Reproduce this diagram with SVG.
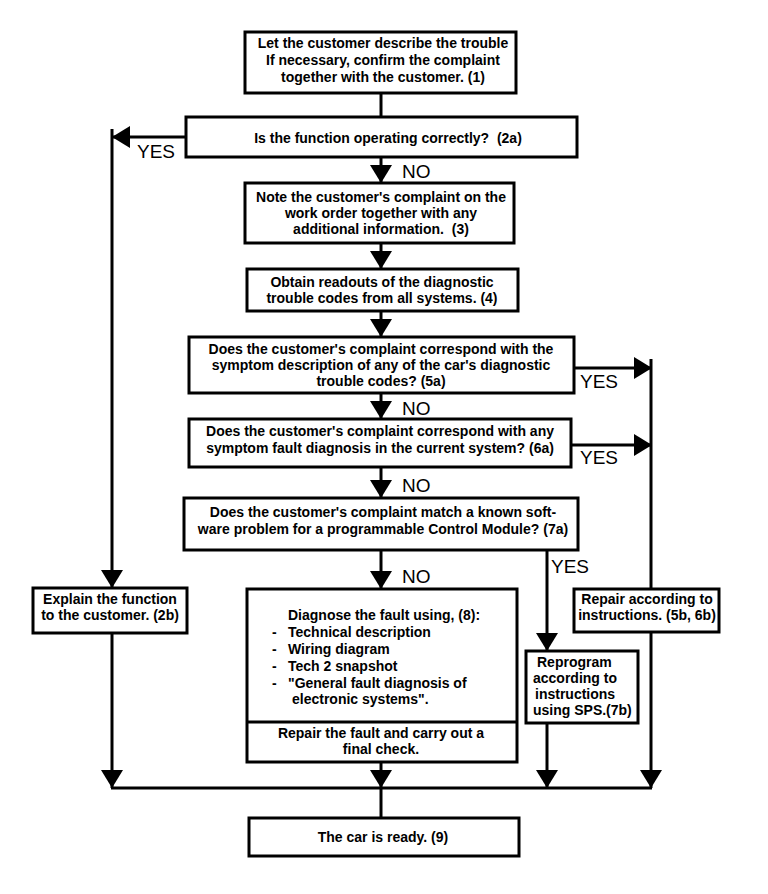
<svg xmlns="http://www.w3.org/2000/svg" width="768" height="894" viewBox="0 0 768 894">
<style>
.box{fill:#fff;stroke:#000;stroke-width:3}
.ln{fill:none;stroke:#000;stroke-width:3}
text{font-family:"Liberation Sans",Arial,sans-serif;font-size:14px;font-weight:bold;fill:#000}
.c{text-anchor:middle}
.lbl{font-size:19px;font-weight:normal}
</style>
<defs>
<marker id="ah" viewBox="0 0 18 22" refX="18" refY="11" markerWidth="18" markerHeight="22" markerUnits="userSpaceOnUse" orient="auto">
<path d="M0,0 L18,11 L0,22 z" fill="#000"/>
</marker>
</defs>
<rect width="768" height="894" fill="#fff"/>
<g id="connectors">
<path class="ln" d="M381,93 V117"/>
<path class="ln" d="M381,157 V183" marker-end="url(#ah)"/>
<path class="ln" d="M381,243 V269" marker-end="url(#ah)"/>
<path class="ln" d="M381,311 V337" marker-end="url(#ah)"/>
<path class="ln" d="M381,393 V419" marker-end="url(#ah)"/>
<path class="ln" d="M381,467 V498" marker-end="url(#ah)"/>
<path class="ln" d="M381,550 V589" marker-end="url(#ah)"/>
<path class="ln" d="M186,137 H112" marker-end="url(#ah)"/>
<path class="ln" d="M112,129 V588" marker-end="url(#ah)"/>
<path class="ln" d="M112,633 V788" marker-end="url(#ah)"/>
<path class="ln" d="M574,368 H652" marker-end="url(#ah)"/>
<path class="ln" d="M571,445 H652" marker-end="url(#ah)"/>
<path class="ln" d="M651,359 V589"/>
<path class="ln" d="M651,632 V788" marker-end="url(#ah)"/>
<path class="ln" d="M547,550 V651" marker-end="url(#ah)"/>
<path class="ln" d="M547,723 V788" marker-end="url(#ah)"/>
<path class="ln" d="M381,762 V788" marker-end="url(#ah)"/>
<path class="ln" d="M111,788 H652"/>
<path class="ln" d="M381,788 V818"/>
<text class="lbl" x="137" y="158">YES</text>
<text class="lbl" x="402" y="178">NO</text>
<text class="lbl" x="580" y="388">YES</text>
<text class="lbl" x="402" y="415">NO</text>
<text class="lbl" x="580" y="464">YES</text>
<text class="lbl" x="402" y="492">NO</text>
<text class="lbl" x="551" y="573">YES</text>
<text class="lbl" x="402" y="583">NO</text>
</g>
<g id="n1">
<rect class="box" x="245" y="32" width="271" height="61"/>
<text class="c" x="383" y="48">Let the customer describe the trouble</text>
<text class="c" x="383" y="65">If necessary, confirm the complaint</text>
<text class="c" x="383" y="82">together with the customer. (1)</text>
</g>
<g id="n2a">
<rect class="box" x="186" y="117" width="391" height="40"/>
<text class="c" x="388" y="143" xml:space="preserve">Is the function operating correctly?  (2a)</text>
</g>
<g id="n3">
<rect class="box" x="245" y="183" width="269" height="60"/>
<text class="c" x="381" y="202">Note the customer's complaint on the</text>
<text class="c" x="381" y="218">work order together with any</text>
<text class="c" x="381" y="234" xml:space="preserve">additional information.  (3)</text>
</g>
<g id="n4">
<rect class="box" x="247" y="269" width="271" height="42"/>
<text class="c" x="382" y="287">Obtain readouts of the diagnostic</text>
<text class="c" x="382" y="303">trouble codes from all systems. (4)</text>
</g>
<g id="n5a">
<rect class="box" x="189" y="337" width="385" height="56"/>
<text class="c" x="381" y="354">Does the customer's complaint correspond with the</text>
<text class="c" x="381" y="370">symptom description of any of the car's diagnostic</text>
<text class="c" x="381" y="386">trouble codes? (5a)</text>
</g>
<g id="n6a">
<rect class="box" x="189" y="419" width="382" height="48"/>
<text class="c" x="380" y="436">Does the customer's complaint correspond with any</text>
<text class="c" x="380" y="453">symptom fault diagnosis in the current system? (6a)</text>
</g>
<g id="n7a">
<rect class="box" x="184" y="498" width="394" height="52"/>
<text class="c" x="383" y="517">Does the customer's complaint match a known soft-</text>
<text class="c" x="383" y="534">ware problem for a programmable Control Module? (7a)</text>
</g>
<g id="n2b">
<rect class="box" x="33" y="588" width="154" height="45"/>
<text class="c" x="110" y="604">Explain the function</text>
<text class="c" x="110" y="620">to the customer. (2b)</text>
</g>
<g id="n8">
<rect class="box" x="247" y="589" width="270" height="173"/>
<line class="ln" x1="247" y1="722" x2="517" y2="722"/>
<text x="288" y="620">Diagnose the fault using, (8):</text>
<text x="272" y="637">-</text><text x="288" y="637">Technical description</text>
<text x="272" y="654">-</text><text x="288" y="654">Wiring diagram</text>
<text x="272" y="671">-</text><text x="288" y="671">Tech 2 snapshot</text>
<text x="272" y="688">-</text><text x="288" y="688">"General fault diagnosis of</text>
<text x="292" y="704">electronic systems".</text>
<text class="c" x="381" y="738">Repair the fault and carry out a</text>
<text class="c" x="381" y="754">final check.</text>
</g>
<g id="n7b">
<rect class="box" x="526" y="651" width="112" height="72"/>
<text x="537" y="667">Reprogram</text>
<text x="533" y="683">according to</text>
<text x="535" y="699">instructions</text>
<text x="533" y="715">using SPS.(7b)</text>
</g>
<g id="n5b">
<rect class="box" x="574" y="589" width="145" height="43"/>
<text class="c" x="647" y="604">Repair according to</text>
<text class="c" x="647" y="620">instructions. (5b, 6b)</text>
</g>
<g id="n9">
<rect class="box" x="249" y="818" width="270" height="38"/>
<text class="c" x="383" y="842">The car is ready. (9)</text>
</g>
</svg>
